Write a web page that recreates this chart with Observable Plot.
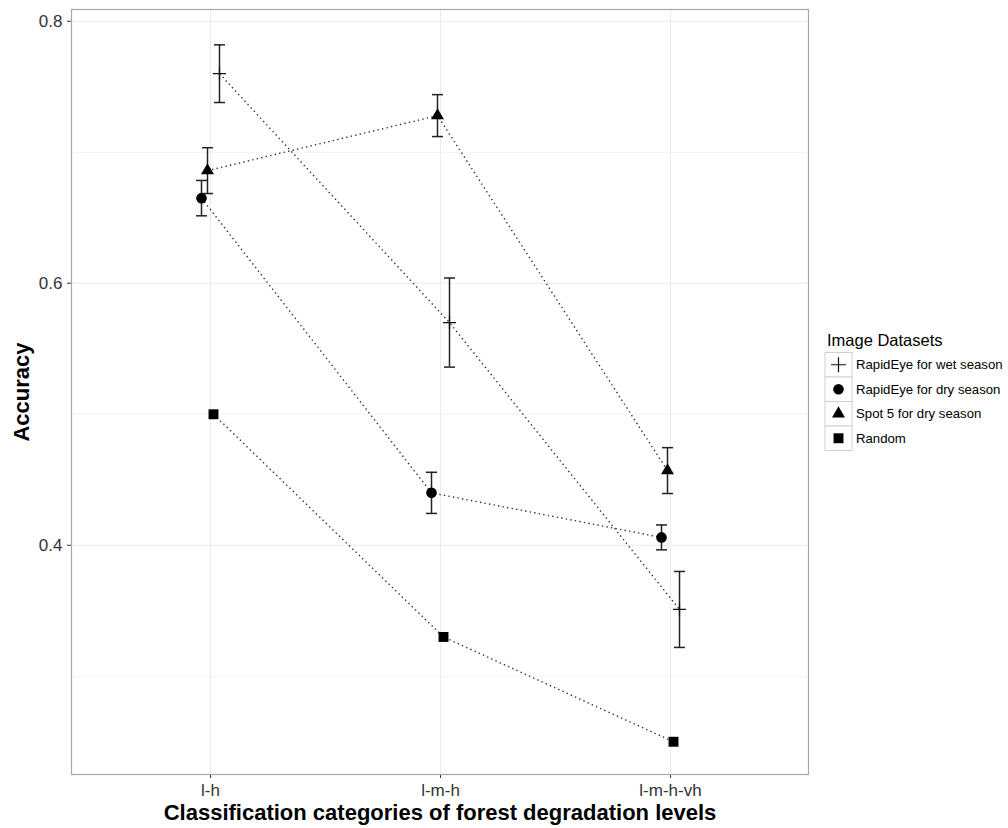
<!DOCTYPE html>
<html>
<head>
<meta charset="utf-8">
<script src="https://cdn.jsdelivr.net/npm/d3@7"></script>
<script src="https://cdn.jsdelivr.net/npm/@observablehq/plot@0.6"></script>
<style>
  body { margin: 0; background: #fff; }
  #wrap { position: relative; width: 1008px; height: 828px; }
  #legend { position: absolute; left: 0; top: 0; pointer-events: none; }
</style>
</head>
<body>
<div id="wrap"></div>
<script>
// ---- data ----
const categories = ["l-h", "l-m-h", "l-m-h-vh"];
const seriesNames = ["RapidEye for wet season", "RapidEye for dry season", "Spot 5 for dry season", "Random"];
const wetMean = [0.760, 0.570, 0.351];
const wetErr = [0.022, 0.034, 0.029];
const dryMean = [0.665, 0.440, 0.406];
const dryErr = [0.0135, 0.0157, 0.0095];
const spotMean = [0.686, 0.728, 0.457];
const spotErr = [0.0175, 0.016, 0.0175];
const randomMean = [0.500, 0.330, 0.250];
const randomErr = [null, null, null];
const yTicks = [0.4, 0.6, 0.8];
const yMinor = [0.3, 0.5, 0.7];

const means = [wetMean, dryMean, spotMean, randomMean];
const errs = [wetErr, dryErr, spotErr, randomErr];

// build rows
const rows = [];
seriesNames.forEach((s, si) => {
  categories.forEach((c, ci) => {
    const m = means[si][ci], e = errs[si][ci];
    rows.push({series: s, category: c, mean: m, lo: e == null ? null : m - e, hi: e == null ? null : m + e});
  });
});

// styles per series (dodge offset, symbol)
const styles = {
  "RapidEye for wet season": {dx: 9, symbol: "plus", r: 4.3, fill: "none", stroke: "#111", strokeWidth: 1.2},
  "RapidEye for dry season": {dx: -9, symbol: "circle", r: 5.3, fill: "#000", stroke: "none"},
  "Spot 5 for dry season": {dx: -3, symbol: "triangle", r: 4.8, fill: "#000", stroke: "none"},
  "Random": {dx: 3, symbol: "square", r: 5.6, fill: "#000", stroke: "none"}
};

const capSymbol = {
  draw(context, size) {
    context.moveTo(-5.5, 0);
    context.lineTo(5.5, 0);
  }
};

const marks = [
  Plot.ruleY(yMinor, {stroke: "#f4f4f4", strokeOpacity: 1}),
  Plot.ruleY(yTicks, {stroke: "#ebebeb", strokeOpacity: 1}),
  Plot.ruleX(categories, {stroke: "#ebebeb", strokeOpacity: 1}),
  Plot.frame({stroke: "#a8a8a8", strokeWidth: 1.2})
];

seriesNames.forEach(s => {
  const st = styles[s];
  const data = rows.filter(d => d.series === s);
  const withErr = data.filter(d => d.lo != null);
  marks.push(Plot.line(data, {x: "category", y: "mean", dx: st.dx, stroke: "#333", strokeWidth: 1.4, strokeDasharray: "1.4,3.2", strokeLinecap: "butt"}));
  if (withErr.length) {
    marks.push(Plot.ruleX(withErr, {x: "category", y1: "lo", y2: "hi", dx: st.dx, stroke: "#222", strokeWidth: 1.5}));
    marks.push(Plot.dot(withErr, {x: "category", y: "lo", dx: st.dx, symbol: capSymbol, r: 3, fill: "none", stroke: "#222", strokeWidth: 1.5}));
    marks.push(Plot.dot(withErr, {x: "category", y: "hi", dx: st.dx, symbol: capSymbol, r: 3, fill: "none", stroke: "#222", strokeWidth: 1.5}));
  }
  marks.push(Plot.dot(data, {x: "category", y: "mean", dx: st.dx, symbol: st.symbol, r: st.r, fill: st.fill, stroke: st.stroke, strokeWidth: st.strokeWidth || 1}));
});

// axis titles
marks.push(Plot.text(["Accuracy"], {frameAnchor: "left", textAnchor: "middle", dx: -50, rotate: -90, text: d => d, fontWeight: "bold", fontSize: 22, fill: "#000"}));
marks.push(Plot.text(["Classification categories of forest degradation levels"], {frameAnchor: "bottom", textAnchor: "middle", dy: 45, text: d => d, fontWeight: "bold", fontSize: 22, fill: "#000"}));

const chart = Plot.plot({
  width: 1008,
  height: 828,
  marginLeft: 71,
  marginRight: 200,
  marginTop: 9,
  marginBottom: 54,
  style: {fontFamily: "'Liberation Sans', Arial, sans-serif", fontSize: "17px", color: "#333", background: "#fff"},
  x: {type: "point", domain: categories, padding: 0.6, label: null, tickSize: 4, tickPadding: 5},
  y: {domain: [0.225, 0.809], ticks: yTicks, tickFormat: d3.format(".1f"), label: null, tickSize: 4, tickPadding: 5},
  marks
});
document.getElementById("wrap").appendChild(chart);

// ---- legend ----
const lg = d3.select("#wrap").append("svg").attr("id", "legend").attr("width", 1008).attr("height", 828)
  .style("font-family", "'Liberation Sans', Arial, sans-serif");
lg.append("text").attr("x", 827).attr("y", 346).attr("font-size", 16.5).attr("fill", "#000").text("Image Datasets");
const rowH = 24.5, top0 = 352.5, boxX = 825, boxW = 27;
const symMap = {plus: d3.symbolPlus, circle: d3.symbolCircle, triangle: d3.symbolTriangle, square: d3.symbolSquare};
seriesNames.forEach((s, i) => {
  const st = styles[s];
  const y0 = top0 + i * rowH;
  lg.append("rect").attr("x", boxX).attr("y", y0).attr("width", boxW).attr("height", rowH)
    .attr("fill", "#fff").attr("stroke", "#d0d0d0").attr("stroke-width", 1);
  const rr = st.symbol === "plus" ? st.r * 1.15 : st.r;
  const size = Math.PI * rr * rr;
  lg.append("path").attr("d", d3.symbol(symMap[st.symbol], size)())
    .attr("transform", `translate(${boxX + boxW / 2},${y0 + rowH / 2})`)
    .attr("fill", st.fill).attr("stroke", st.stroke).attr("stroke-width", st.strokeWidth || 1);
  lg.append("text").attr("x", 856).attr("y", y0 + rowH / 2 + 4.5).attr("font-size", 13.2).attr("fill", "#000").text(s);
});
</script>
</body>
</html>
